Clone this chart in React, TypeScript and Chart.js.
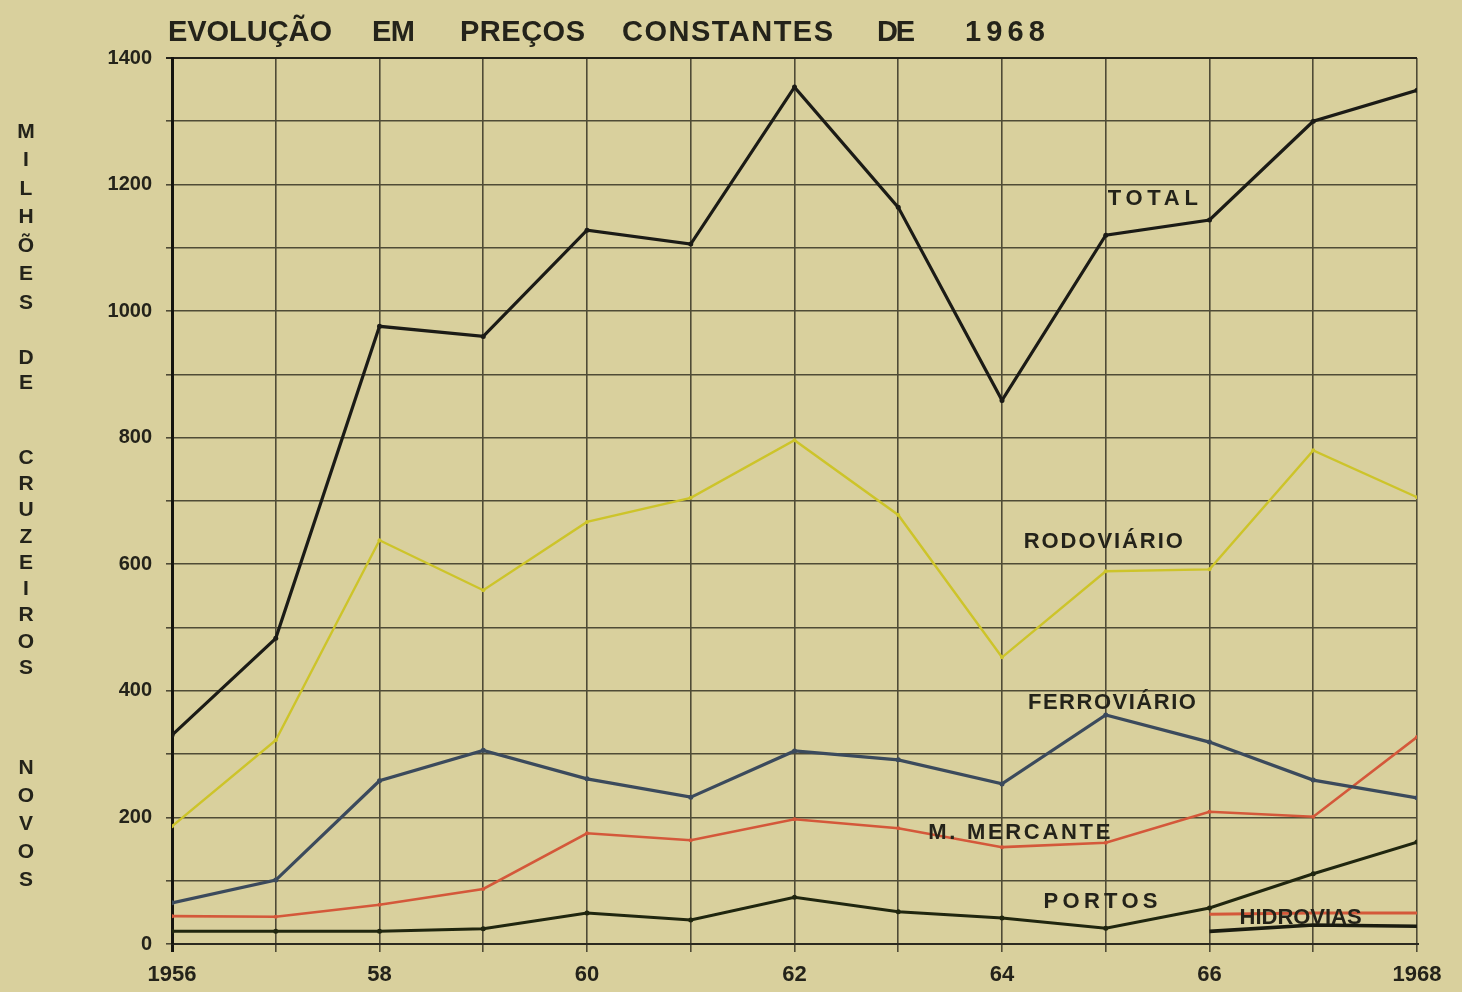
import React, { useEffect, useRef } from "react";
import { Chart, registerables } from "chart.js";

Chart.register(...registerables);

// ---------- DATA ----------
const years = [1956, 1957, 1958, 1959, 1960, 1961, 1962, 1963, 1964, 1965, 1966, 1967, 1968];
const total = [330, 483, 976, 960, 1128, 1106, 1354, 1164, 859, 1120, 1144, 1300, 1349];
const rodoviario = [186, 322, 638, 559, 667, 705, 796, 678, 453, 589, 592, 780, 706];
const ferroviario = [65, 101, 258, 306, 261, 232, 305, 291, 253, 362, 319, 259, 231];
const marinhaMercante = [44, 43, 62, 87, 175, 164, 197, 183, 153, 160, 209, 201, 327];
const portos = [20, 20, 20, 24, 49, 38, 74, 51, 41, 25, 57, 111, 161];
const hidroviasYears = [1966, 1967, 1968];
const hidroviasEscura = [20, 30, 28];
const hidroviasVermelha = [47, 49, 49];

const xTickLabels: Record<number, string> = {
  1956: "1956",
  1958: "58",
  1960: "60",
  1962: "62",
  1964: "64",
  1966: "66",
  1968: "1968",
};
const yTickValues = [0, 200, 400, 600, 800, 1000, 1200, 1400];

const titleWords = ["EVOLUÇÃO", "EM", "PREÇOS", "CONSTANTES", "DE", "1968"];
const yTitleWords = ["MILHÕES", "DE", "CRUZEIROS", "NOVOS"];

const seriesLabels = ["TOTAL", "RODOVIÁRIO", "FERROVIÁRIO", "M. MERCANTE", "PORTOS", "HIDROVIAS"];
const seriesLabelX = [1965.02, 1964.21, 1964.25, 1963.29, 1964.4, 1966.29];
const seriesLabelY = [1178, 635, 381, 175, 66, 41];

// ---------- LAYOUT / STYLE ----------
const W = 1462;
const H = 992;
const BG = "rgb(217,208,157)";
const INK = "#24231a";
const FONT = "'Liberation Sans', Arial, sans-serif";

const titleLayout = [
  [168, 332],
  [372, 415],
  [460, 585],
  [622, 833],
  [877, 915],
  [965, 1045],
];
const yTitleLayout = [
  [132, 28.5],
  [358, 25],
  [458, 26.25],
  [768, 28],
];
const seriesLabelWidths = [90, 159, 168, 182, 114, 122];

function fitText(ctx: CanvasRenderingContext2D, text: string, x: number, y: number, width: number) {
  (ctx as any).letterSpacing = "0px";
  const w = ctx.measureText(text).width;
  const n = Array.from(text).length;
  const s = n > 1 ? (width - w) / (n - 1) : 0;
  (ctx as any).letterSpacing = s + "px";
  ctx.fillText(text, x, y);
  (ctx as any).letterSpacing = "0px";
}

const decorPlugin = {
  id: "decor",
  beforeDraw(chart: any) {
    const ctx = chart.ctx as CanvasRenderingContext2D;
    ctx.save();
    ctx.fillStyle = BG;
    ctx.fillRect(0, 0, chart.width, chart.height);
    ctx.restore();
  },
  afterDraw(chart: any) {
    const ctx = chart.ctx as CanvasRenderingContext2D;
    const xs = chart.scales.x;
    const ys = chart.scales.y;
    ctx.save();
    ctx.fillStyle = INK;
    // title
    ctx.font = `bold 29px ${FONT}`;
    ctx.textBaseline = "alphabetic";
    ctx.textAlign = "left";
    titleWords.forEach((w, i) => {
      const [x0, x1] = titleLayout[i];
      fitText(ctx, w, x0, 41, x1 - x0);
    });
    // vertical stacked y title
    ctx.font = `bold 21px ${FONT}`;
    ctx.textAlign = "center";
    ctx.textBaseline = "middle";
    yTitleWords.forEach((w, i) => {
      const [y0, step] = yTitleLayout[i];
      Array.from(w).forEach((ch, j) => {
        ctx.fillText(ch, 26, y0 + j * step);
      });
    });
    // series labels
    ctx.font = `bold 22px ${FONT}`;
    ctx.textAlign = "left";
    ctx.textBaseline = "middle";
    seriesLabels.forEach((t, i) => {
      const px = xs.getPixelForValue(seriesLabelX[i]);
      const py = ys.getPixelForValue(seriesLabelY[i]);
      fitText(ctx, t, px, py, seriesLabelWidths[i]);
    });
    ctx.restore();
  },
};

function mk(label: string, xsArr: number[], ys: number[], color: string, width: number, radius: number) {
  return {
    label,
    data: xsArr.map((x, i) => ({ x, y: ys[i] })),
    borderColor: color,
    backgroundColor: color,
    borderWidth: width,
    pointRadius: radius,
    pointHoverRadius: radius,
    pointBorderWidth: 0,
    tension: 0,
    fill: false,
  };
}

export default function App() {
  const ref = useRef<HTMLCanvasElement | null>(null);

  useEffect(() => {
    if (!ref.current) return;
    const chart = new Chart(ref.current, {
      type: "line",
      data: {
        datasets: [
          mk("Total", years, total, "#1b1b16", 3.2, 2.5),
          mk("Rodoviário", years, rodoviario, "#cdc42a", 2.4, 2),
          mk("Ferroviário", years, ferroviario, "#3b4a5c", 3.2, 2.5),
          mk("M. Mercante", years, marinhaMercante, "#d4583a", 2.6, 2),
          mk("Portos", years, portos, "#20260f", 3, 2.5),
          mk("Hidrovias (vermelha)", hidroviasYears, hidroviasVermelha, "#d4583a", 3, 0),
          mk("Hidrovias", hidroviasYears, hidroviasEscura, "#1a1c10", 3.6, 0),
        ] as any,
      },
      options: {
        animation: false,
        responsive: false,
        maintainAspectRatio: false,
        events: [],
        layout: { padding: { left: 0, right: W - 1417, top: 58, bottom: 0 } },
        plugins: {
          legend: { display: false },
          title: { display: false },
          tooltip: { enabled: false },
        },
        scales: {
          x: {
            type: "linear",
            min: 1956,
            max: 1968,
            afterFit(scale: any) {
              scale.height = H - 944;
            },
            afterBuildTicks(scale: any) {
              scale.ticks = years.map((v) => ({ value: v }));
            },
            ticks: {
              autoSkip: false,
              maxRotation: 0,
              padding: 10,
              color: INK,
              font: { family: FONT, size: 22, weight: "bold" },
              callback: (v: any) => xTickLabels[v as number] ?? "",
            },
            grid: {
              color: (c: any) => (c.tick && c.tick.value === 1956 ? "#15140f" : "#4f4b36"),
              lineWidth: (c: any) => (c.tick && c.tick.value === 1956 ? 3 : 1.6),
              tickLength: 8,
              drawTicks: true,
            },
            border: { display: true, color: "#2c2a20", width: 2 },
          },
          y: {
            type: "linear",
            min: 0,
            max: 1400,
            afterFit(scale: any) {
              scale.width = 172;
            },
            afterBuildTicks(scale: any) {
              const t: any[] = [];
              for (let v = 0; v <= 1400; v += 100) t.push({ value: v });
              scale.ticks = t;
            },
            ticks: {
              autoSkip: false,
              padding: 14,
              color: INK,
              font: { family: FONT, size: 20, weight: "bold" },
              callback: (v: any) => (yTickValues.includes(v as number) ? String(v) : ""),
            },
            grid: {
              color: (c: any) => (c.tick && c.tick.value === 1400 ? "#25231a" : "#4f4b36"),
              lineWidth: (c: any) => (c.tick && c.tick.value === 1400 ? 2 : 1.6),
              tickLength: 6,
              drawTicks: true,
            },
            border: { display: true, color: "#15140f", width: 3 },
          },
        },
      } as any,
      plugins: [decorPlugin],
    });
    return () => chart.destroy();
  }, []);

  return (
    <div style={{ position: "absolute", left: 0, top: 0, width: W, height: H, background: BG }}>
      <canvas ref={ref} width={W} height={H} style={{ width: W, height: H, display: "block" }} />
    </div>
  );
}
